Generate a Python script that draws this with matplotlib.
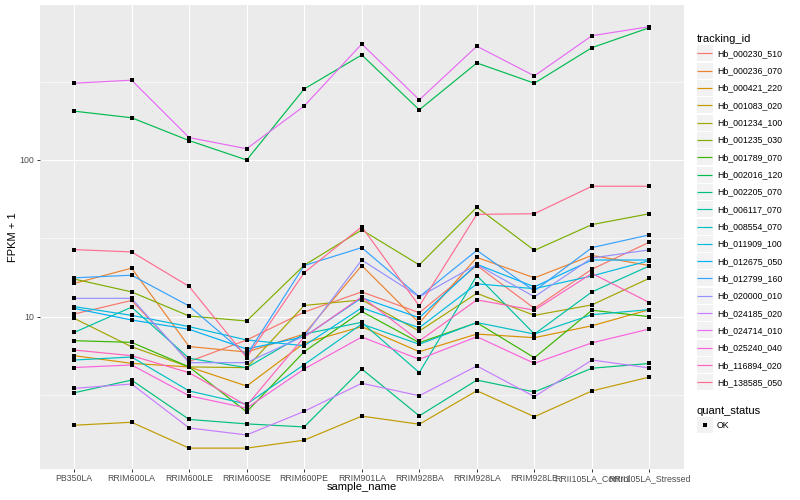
import matplotlib
matplotlib.use("Agg")
import matplotlib.pyplot as plt
from matplotlib.patches import Rectangle
from matplotlib.lines import Line2D
from matplotlib.legend_handler import HandlerBase
from matplotlib.ticker import NullFormatter

plt.rcParams['font.family'] = ['Liberation Sans', 'DejaVu Sans']

samples = ["PB350LA", "RRIM600LA", "RRIM600LE", "RRIM600SE", "RRIM600PE",
           "RRIM901LA", "RRIM928BA", "RRIM928LA", "RRIM928LE",
           "RRII105LA_Control", "RRII105LA_Stressed"]

tracking_ids = ["Hb_000230_510", "Hb_000236_070", "Hb_000421_220", "Hb_001083_020",
                "Hb_001234_100", "Hb_001235_030", "Hb_001789_070", "Hb_002016_120",
                "Hb_002205_070", "Hb_006117_070", "Hb_008554_070", "Hb_011909_100",
                "Hb_012675_050", "Hb_012799_160", "Hb_020000_010", "Hb_024185_020",
                "Hb_024714_010", "Hb_025240_040", "Hb_116894_020", "Hb_138585_050"]

colors = ["#F8766D", "#EA8331", "#D89000", "#C09B00", "#A3A500", "#7CAE00", "#39B600",
          "#00BB4E", "#00BF7D", "#00C1A3", "#00BFC4", "#00BAE0", "#00B0F6", "#35A2FF",
          "#9590FF", "#C77CFF", "#E76BF3", "#FA62DB", "#FF62BC", "#FF6C91"]

# FPKM + 1 values, one list per tracking_id (order follows `samples`)
hb_000230_510 = [10.4, 12.7, 5.18, 7.10, 10.7, 14.4, 10.6, 21.2, 11.3, 20.1, 29.9]
hb_000236_070 = [16.3, 20.4, 6.45, 5.95, 7.75, 21.2, 9.12, 23.9, 17.7, 24.6, 21.2]
hb_000421_220 = [5.64, 5.04, 4.78, 3.61, 6.79, 8.64, 5.98, 7.75, 7.35, 8.75, 11.1]
hb_001083_020 = [2.03, 2.12, 1.45, 1.45, 1.63, 2.32, 2.06, 3.37, 2.30, 3.36, 4.12]
hb_001234_100 = [9.77, 6.43, 4.78, 4.73, 11.8, 12.8, 8.10, 14.1, 10.2, 11.9, 17.6]
hb_001235_030 = [17.4, 14.4, 10.1, 9.39, 21.3, 35.8, 21.4, 49.9, 26.5, 38.7, 45.4]
hb_001789_070 = [7.03, 6.86, 4.78, 2.47, 5.98, 10.8, 6.83, 9.16, 5.47, 11.0, 10.0]
hb_002016_120 = [205, 186, 133, 100, 284, 468, 209, 416, 309, 521, 699]
hb_002205_070 = [3.27, 3.94, 2.21, 2.07, 1.98, 4.64, 2.33, 3.94, 3.31, 4.69, 5.03]
hb_006117_070 = [7.93, 11.5, 5.43, 4.73, 7.75, 9.21, 4.40, 18.3, 7.75, 14.4, 21.1]
hb_008554_070 = [5.29, 5.53, 3.36, 2.77, 4.95, 8.98, 6.67, 9.18, 7.75, 10.3, 11.1]
hb_011909_100 = [11.6, 10.2, 8.64, 7.10, 6.53, 11.4, 8.51, 16.2, 15.1, 18.2, 22.8]
hb_012675_050 = [11.3, 9.53, 8.31, 6.22, 7.45, 13.2, 9.85, 21.6, 15.5, 23.0, 23.0]
hb_012799_160 = [17.7, 18.4, 11.7, 5.69, 21.2, 27.6, 13.4, 26.5, 14.6, 27.6, 33.3]
hb_020000_010 = [13.1, 13.1, 5.09, 5.09, 7.53, 23.0, 13.4, 21.5, 13.4, 23.7, 26.7]
hb_024185_020 = [3.49, 3.72, 1.95, 1.76, 2.49, 3.76, 3.13, 4.85, 3.09, 5.29, 4.71]
hb_024714_010 = [309, 323, 139, 118, 221, 550, 242, 532, 344, 621, 709]
hb_025240_040 = [4.74, 4.92, 3.13, 2.61, 4.64, 7.42, 5.35, 7.45, 5.04, 6.81, 8.35]
hb_116894_020 = [6.13, 5.64, 4.39, 2.71, 7.42, 13.4, 7.00, 12.8, 11.0, 18.9, 12.3]
hb_138585_050 = [26.8, 25.9, 15.6, 5.49, 19.1, 37.5, 11.7, 45.0, 45.4, 68.0, 68.0]

series = [hb_000230_510, hb_000236_070, hb_000421_220, hb_001083_020, hb_001234_100,
          hb_001235_030, hb_001789_070, hb_002016_120, hb_002205_070, hb_006117_070,
          hb_008554_070, hb_011909_100, hb_012675_050, hb_012799_160, hb_020000_010,
          hb_024185_020, hb_024714_010, hb_025240_040, hb_116894_020, hb_138585_050]

quant_status = ["OK"]


class KeyHandler(HandlerBase):
    """ggplot-like legend key: grey square with the glyph centred in it."""

    def create_artists(self, legend, orig_handle, xdescent, ydescent,
                       width, height, fontsize, trans):
        x0, y0 = -xdescent, -ydescent
        rect = Rectangle((x0, y0), width, height, facecolor='#F2F2F2',
                         edgecolor='none', transform=trans)
        yc = y0 + height / 2
        if orig_handle.get_marker() not in (None, 'None', '', ' '):
            glyph = Line2D([x0 + width / 2], [yc], ls='', marker=orig_handle.get_marker(),
                           ms=orig_handle.get_markersize(), mew=0,
                           color=orig_handle.get_color(), transform=trans)
        else:
            glyph = Line2D([x0 + 0.05 * width, x0 + 0.95 * width], [yc, yc],
                           color=orig_handle.get_color(), lw=orig_handle.get_linewidth(),
                           solid_capstyle='butt', transform=trans)
        return [rect, glyph]


W, H = 800, 500
fig = plt.figure(figsize=(8, 5), dpi=100)
L, R, T, B = 39.5, 684, 5, 469
ax = fig.add_axes([L / W, 1 - B / H, (R - L) / W, (B - T) / H])
ax.set_facecolor('#EBEBEB')
for s in ax.spines.values():
    s.set_visible(False)

x = list(range(len(samples)))
for vals, col in zip(series, colors):
    ax.plot(x, vals, color=col, lw=0.85, zorder=3, solid_capstyle='butt')
for vals in series:
    ax.plot(x, vals, 's', color='black', ms=2.8, zorder=4, mew=0)

ax.set_yscale('log')
ax.set_ylim(1.067, 975)
ax.set_xlim(-0.6, len(samples) - 1 + 0.6)
ax.set_yticks([10, 100], labels=['10', '100'])
ax.set_yticks([10 ** 0.5, 10 ** 1.5, 10 ** 2.5], minor=True)
ax.yaxis.set_minor_formatter(NullFormatter())
ax.set_xticks(x, labels=samples)
ax.tick_params(which='major', length=2.2, width=0.7, color='#333333',
               labelcolor='#4D4D4D', labelsize=6.3, pad=1.5)
ax.tick_params(which='minor', length=0)
ax.grid(which='major', color='white', lw=0.85)
ax.grid(which='minor', axis='y', color='white', lw=0.45)
ax.set_axisbelow(True)

ax.set_xlabel('sample_name', fontsize=8)
ax.xaxis.set_label_coords(0.5, (B - 482) / (B - T))
ax.set_ylabel('FPKM + 1', fontsize=8)
ax.yaxis.set_label_coords((18 - L) / (R - L), 0.5)

# legends
fs = 6.3
fpx = fs * 100 / 72          # font size in pixels
key_px = 16.0                # key square size in pixels
hl = key_px / fpx
# matplotlib: box height = fs*hh - 0.35*fs*(hh-0.7); solve for key_px
hh = (key_px / fpx - 0.245) / 0.65
common = dict(loc='upper left', frameon=False, fontsize=fs, title_fontsize=8,
              handler_map={Line2D: KeyHandler()},
              handlelength=hl, handleheight=hh,
              labelspacing=1.32 / fpx, handletextpad=4.5 / fpx,
              borderpad=0, borderaxespad=0, alignment='left')

handles = [Line2D([], [], color=col, lw=0.85) for col in colors]
leg1 = fig.legend(handles, tracking_ids, bbox_to_anchor=(696.5 / W, 1 - 34 / H),
                  title='tracking_id', **common)

qhandles = [Line2D([], [], color='black', marker='s', ms=2.8, ls='')]
leg2 = fig.legend(qhandles, quant_status, bbox_to_anchor=(696.5 / W, 1 - 405.5 / H),
                  title='quant_status', **common)

fig.savefig('out.png', dpi=100, facecolor='white')
